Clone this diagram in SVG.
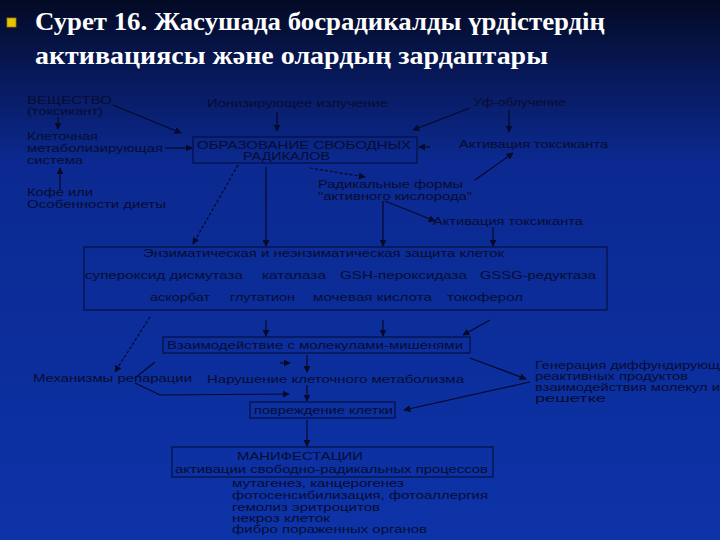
<svg xmlns="http://www.w3.org/2000/svg" width="720" height="540" viewBox="0 0 720 540">
<defs>
<linearGradient id="bg" x1="0" y1="0" x2="0" y2="1">
<stop offset="0" stop-color="#030a24"/>
<stop offset="0.14" stop-color="#08195a"/>
<stop offset="0.3" stop-color="#0b2990"/>
<stop offset="1" stop-color="#0d33a8"/>
</linearGradient>
<marker id="ah" viewBox="0 0 10 10" refX="9" refY="5" markerWidth="7" markerHeight="7" orient="auto" markerUnits="userSpaceOnUse">
<path d="M0,0 L10,5 L0,10 z" fill="#050a28"/>
</marker>
<style>
.t{font-family:"Liberation Sans",Arial,sans-serif;font-size:11px;fill:#070c30}
.ttl{font-family:"Liberation Serif","DejaVu Serif",serif;font-size:25px;font-weight:bold;fill:#ffffff}
.box{fill:none;stroke:#061040;stroke-width:1.2}
.c{fill:none;stroke:#050a28;stroke-width:1.2;marker-end:url(#ah)}
.d{stroke-dasharray:3,2}
</style>
</defs>
<rect x="0" y="0" width="720" height="540" fill="url(#bg)"/>
<g id="title">
<rect x="7" y="18" width="9" height="9" fill="#e8c400" stroke="#a08000" stroke-width="0.8"/>
<text class="ttl" font-family="Liberation Serif, DejaVu Serif, serif" x="35" y="30" textLength="570" lengthAdjust="spacingAndGlyphs">Сурет 16. Жасушада босрадикалды үрдістердің</text>
<text class="ttl" font-family="Liberation Serif, DejaVu Serif, serif" x="35" y="64" textLength="513" lengthAdjust="spacingAndGlyphs">активациясы және олардың зардаптары</text>
</g>
<g id="connectors">
<line class="c" x1="58" y1="117" x2="58" y2="129"/>
<line class="c" x1="60" y1="190" x2="60" y2="168"/>
<line class="c" x1="165" y1="148" x2="192" y2="148"/>
<line class="c" x1="113" y1="105" x2="181" y2="133"/>
<line class="c" x1="277" y1="112" x2="277" y2="131"/>
<line class="c" x1="470" y1="108" x2="413" y2="130"/>
<line class="c" x1="509" y1="110" x2="509" y2="132"/>
<line class="c" x1="430" y1="147" x2="419" y2="147"/>
<line class="c" x1="475" y1="180" x2="513" y2="153"/>
<line class="c d" x1="238" y1="165" x2="193" y2="244"/>
<line class="c" x1="266" y1="167" x2="266" y2="246"/>
<line class="c d" x1="310" y1="168" x2="365" y2="177"/>
<line class="c" x1="383" y1="201" x2="383" y2="246"/>
<line class="c" x1="385" y1="201" x2="435" y2="221"/>
<line class="c" x1="493" y1="227" x2="493" y2="246"/>
<line class="c d" x1="150" y1="317" x2="115" y2="372"/>
<line class="c" x1="266" y1="320" x2="266" y2="336"/>
<line class="c" x1="383" y1="320" x2="383" y2="336"/>
<line class="c" x1="490" y1="320" x2="463" y2="335"/>
<line class="c" x1="307" y1="355" x2="307" y2="372"/>
<line class="c" x1="280" y1="363" x2="290" y2="363"/>
<line fill="none" stroke="#050a28" stroke-width="1.2" x1="155" y1="362" x2="135" y2="378"/>
<polyline class="c" points="135,383 160,395 289,394"/>
<line class="c" x1="307" y1="385" x2="307" y2="401"/>
<line class="c" x1="470" y1="358" x2="526" y2="379"/>
<line class="c" x1="530" y1="382" x2="404" y2="410"/>
<line class="c" x1="307" y1="420" x2="307" y2="446"/>
</g>
<g id="n-veshchestvo">
<text class="t" x="27" y="104" textLength="85" lengthAdjust="spacingAndGlyphs">ВЕЩЕСТВО</text>
<text class="t" x="27" y="115" textLength="76" lengthAdjust="spacingAndGlyphs">(токсикант)</text>
</g>
<g id="n-kletochnaya">
<text class="t" x="27" y="140" textLength="71" lengthAdjust="spacingAndGlyphs">Клеточная</text>
<text class="t" x="27" y="152" textLength="136" lengthAdjust="spacingAndGlyphs">метаболизирующая</text>
<text class="t" x="27" y="164" textLength="56" lengthAdjust="spacingAndGlyphs">система</text>
</g>
<g id="n-kofe">
<text class="t" x="27" y="196" textLength="66" lengthAdjust="spacingAndGlyphs">Кофе или</text>
<text class="t" x="27" y="208" textLength="139" lengthAdjust="spacingAndGlyphs">Особенности диеты</text>
</g>
<g id="n-ioniz">
<text class="t" x="207" y="107" textLength="181" lengthAdjust="spacingAndGlyphs">Ионизирующее излучение</text>
</g>
<g id="n-uf">
<text class="t" x="473" y="106" textLength="93" lengthAdjust="spacingAndGlyphs">Уф-облучение</text>
</g>
<g id="n-obrazovanie">
<rect class="box" x="193" y="137" width="224" height="26"/>
<text class="t" x="197" y="149" textLength="214" lengthAdjust="spacingAndGlyphs">ОБРАЗОВАНИЕ СВОБОДНЫХ</text>
<text class="t" x="243" y="160" textLength="87" lengthAdjust="spacingAndGlyphs">РАДИКАЛОВ</text>
</g>
<g id="n-aktivaciya1">
<text class="t" x="459" y="148" textLength="149" lengthAdjust="spacingAndGlyphs">Активация токсиканта</text>
</g>
<g id="n-radikalnye">
<text class="t" x="318" y="188" textLength="145" lengthAdjust="spacingAndGlyphs">Радикальные формы</text>
<text class="t" x="318" y="200" textLength="154" lengthAdjust="spacingAndGlyphs">"активного кислорода"</text>
</g>
<g id="n-aktivaciya2">
<text class="t" x="433" y="225" textLength="150" lengthAdjust="spacingAndGlyphs">Активация токсиканта</text>
</g>
<g id="n-zashchita">
<rect class="box" x="84" y="247" width="523" height="63"/>
<text class="t" x="143" y="257" textLength="361" lengthAdjust="spacingAndGlyphs">Энзиматическая и неэнзиматическая защита клеток</text>
<text class="t" x="85" y="279" textLength="158" lengthAdjust="spacingAndGlyphs">супероксид дисмутаза</text>
<text class="t" x="262" y="279" textLength="64" lengthAdjust="spacingAndGlyphs">каталаза</text>
<text class="t" x="340" y="279" textLength="127" lengthAdjust="spacingAndGlyphs">GSH-пероксидаза</text>
<text class="t" x="480" y="279" textLength="116" lengthAdjust="spacingAndGlyphs">GSSG-редуктаза</text>
<text class="t" x="150" y="301" textLength="60" lengthAdjust="spacingAndGlyphs">аскорбат</text>
<text class="t" x="230" y="301" textLength="65" lengthAdjust="spacingAndGlyphs">глутатион</text>
<text class="t" x="313" y="301" textLength="119" lengthAdjust="spacingAndGlyphs">мочевая кислота</text>
<text class="t" x="447" y="301" textLength="76" lengthAdjust="spacingAndGlyphs">токоферол</text>
</g>
<g id="n-vzaimodeistvie">
<rect class="box" x="163" y="337" width="307" height="16"/>
<text class="t" x="167" y="349" textLength="296" lengthAdjust="spacingAndGlyphs">Взаимодействие с молекулами-мишенями</text>
</g>
<g id="n-reparaciya">
<text class="t" x="33" y="382" textLength="159" lengthAdjust="spacingAndGlyphs">Механизмы репарации</text>
</g>
<g id="n-narushenie">
<text class="t" x="207" y="383" textLength="257" lengthAdjust="spacingAndGlyphs">Нарушение клеточного метаболизма</text>
</g>
<g id="n-generaciya">
<text class="t" x="535" y="369" textLength="185" lengthAdjust="spacingAndGlyphs">Генерация диффундирующ</text>
<text class="t" x="535" y="380" textLength="153" lengthAdjust="spacingAndGlyphs">реактивных продуктов</text>
<text class="t" x="535" y="391" textLength="185" lengthAdjust="spacingAndGlyphs">взаимодействия молекул и</text>
<text class="t" x="535" y="402" textLength="71" lengthAdjust="spacingAndGlyphs">решетке</text>
</g>
<g id="n-povrezhdenie">
<rect class="box" x="250" y="402" width="145" height="16"/>
<text class="t" x="254" y="414" textLength="139" lengthAdjust="spacingAndGlyphs">повреждение клетки</text>
</g>
<g id="n-manifestacii">
<rect class="box" x="172" y="447" width="321" height="30"/>
<text class="t" x="237" y="460" textLength="126" lengthAdjust="spacingAndGlyphs">МАНИФЕСТАЦИИ</text>
<text class="t" x="175" y="473" textLength="313" lengthAdjust="spacingAndGlyphs">активации свободно-радикальных процессов</text>
</g>
<g id="n-spisok">
<text class="t" x="232" y="487" textLength="172" lengthAdjust="spacingAndGlyphs">мутагенез, канцерогенез</text>
<text class="t" x="232" y="499" textLength="256" lengthAdjust="spacingAndGlyphs">фотосенсибилизация, фотоаллергия</text>
<text class="t" x="232" y="511" textLength="148" lengthAdjust="spacingAndGlyphs">гемолиз эритроцитов</text>
<text class="t" x="232" y="522" textLength="98" lengthAdjust="spacingAndGlyphs">некроз клеток</text>
<text class="t" x="232" y="533" textLength="195" lengthAdjust="spacingAndGlyphs">фибро пораженных органов</text>
</g>
</svg>
